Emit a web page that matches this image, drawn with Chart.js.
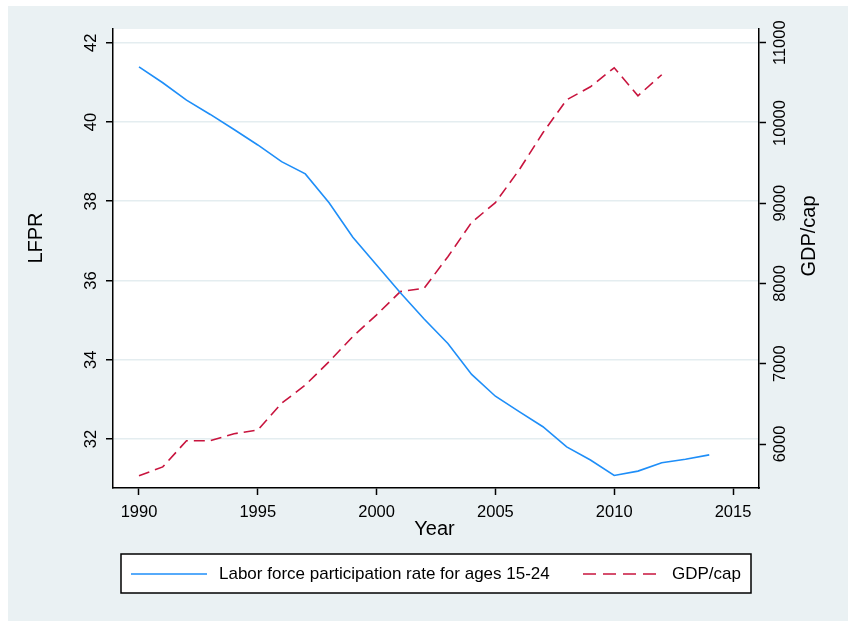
<!DOCTYPE html>
<html>
<head>
<meta charset="utf-8">
<script src="https://cdn.jsdelivr.net/npm/chart.js@4"></script>
<style>
  html, body { margin: 0; padding: 0; background: #ffffff; }
  #wrap { width: 848px; height: 621px; position: relative; }
</style>
</head>
<body>
<div id="wrap"><canvas id="c" width="848" height="621"></canvas></div>
<script>
// ---- data ----
const years = [1990,1991,1992,1993,1994,1995,1996,1997,1998,1999,2000,2001,2002,2003,2004,2005,2006,2007,2008,2009,2010,2011,2012,2013,2014];
const lfpr = [41.39,40.99,40.55,40.19,39.81,39.42,39.00,38.69,37.96,37.09,36.39,35.69,35.03,34.41,33.63,33.08,32.69,32.31,31.80,31.47,31.08,31.19,31.40,31.49,31.60];
const gdpYears = [1990,1991,1992,1993,1994,1995,1996,1997,1998,1999,2000,2001,2002,2003,2004,2005,2006,2007,2008,2009,2010,2011,2012];
const gdpcap = [5605,5715,6041,6041,6128,6174,6507,6735,7026,7340,7610,7899,7941,8334,8762,9008,9416,9878,10289,10451,10688,10339,10601];
const xTicks = [1990,1995,2000,2005,2010,2015];
const lfprTicks = [32,34,36,38,40,42];
const gdpTicks = [6000,7000,8000,9000,10000,11000];
const legendLabels = ['Labor force participation rate for ages 15-24', 'GDP/cap'];
const axisTitles = { x: 'Year', left: 'LFPR', right: 'GDP/cap' };

const BLUE = '#1E8EF8';
const RED = '#C8143E';
const BG = '#EAF1F3';
const GRID = '#E4EDF0';
const FONT = '"Liberation Sans", Arial, sans-serif';

const bgPlugin = {
  id: 'bg',
  beforeDraw(chart) {
    const ctx = chart.ctx, a = chart.chartArea;
    ctx.save();
    ctx.fillStyle = '#ffffff';
    ctx.fillRect(0, 0, chart.width, chart.height);
    ctx.fillStyle = BG;
    ctx.fillRect(8, 6, chart.width - 8, chart.height - 6);
    ctx.fillStyle = '#ffffff';
    ctx.fillRect(a.left, a.top, a.right - a.left, a.bottom - a.top);
    ctx.restore();
  },
  afterDraw(chart) {
    const ctx = chart.ctx;
    const sx = chart.scales.x, sl = chart.scales.yL, sr = chart.scales.yR;
    ctx.save();
    ctx.fillStyle = '#000';
    ctx.font = '16.5px ' + FONT;
    ctx.textAlign = 'center';
    ctx.textBaseline = 'middle';
    xTicks.forEach(v => ctx.fillText(String(v), sx.getPixelForValue(v), 512));
    lfprTicks.forEach(v => {
      ctx.save();
      ctx.translate(91, sl.getPixelForValue(v));
      ctx.rotate(-Math.PI / 2);
      ctx.fillText(String(v), 0, 0);
      ctx.restore();
    });
    gdpTicks.forEach(v => {
      ctx.save();
      ctx.translate(780, sr.getPixelForValue(v));
      ctx.rotate(-Math.PI / 2);
      ctx.fillText(String(v), 0, 0);
      ctx.restore();
    });
    // axis titles
    ctx.font = '20px ' + FONT;
    ctx.fillText(axisTitles.x, 434.5, 529);
    ctx.save();
    ctx.translate(36, 238);
    ctx.rotate(-Math.PI / 2);
    ctx.fillText(axisTitles.left, 0, 0);
    ctx.restore();
    ctx.save();
    ctx.translate(809, 236);
    ctx.rotate(-Math.PI / 2);
    ctx.fillText(axisTitles.right, 0, 0);
    ctx.restore();
    // legend
    ctx.fillStyle = '#fff';
    ctx.fillRect(121, 554, 630, 39);
    ctx.strokeStyle = '#000';
    ctx.lineWidth = 1.5;
    ctx.strokeRect(121, 554, 630, 39);
    ctx.lineWidth = 1.6;
    ctx.strokeStyle = BLUE;
    ctx.beginPath(); ctx.moveTo(131, 574); ctx.lineTo(207, 574); ctx.stroke();
    ctx.strokeStyle = RED;
    ctx.setLineDash([13, 7]);
    ctx.beginPath(); ctx.moveTo(583, 574); ctx.lineTo(661, 574); ctx.stroke();
    ctx.setLineDash([]);
    ctx.fillStyle = '#000';
    ctx.font = '17px ' + FONT;
    ctx.textAlign = 'left';
    ctx.fillText(legendLabels[0], 219, 574);
    ctx.fillText(legendLabels[1], 672, 574);
    ctx.restore();
  }
};

const setTicks = (arr) => (scale) => { scale.ticks = arr.map(v => ({ value: v })); };

new Chart(document.getElementById('c'), {
  type: 'line',
  data: {
    datasets: [
      {
        label: legendLabels[0],
        data: years.map((y, i) => ({ x: y, y: lfpr[i] })),
        yAxisID: 'yL',
        borderColor: BLUE,
        borderWidth: 1.6,
        pointRadius: 0,
        tension: 0,
        fill: false
      },
      {
        label: legendLabels[1],
        data: gdpYears.map((y, i) => ({ x: y, y: gdpcap[i] })),
        yAxisID: 'yR',
        borderColor: RED,
        borderWidth: 1.6,
        borderDash: [11, 6],
        pointRadius: 0,
        tension: 0,
        fill: false
      }
    ]
  },
  options: {
    responsive: false,
    animation: false,
    layout: { padding: { left: 0, right: 0, top: 29, bottom: 0 } },
    plugins: { legend: { display: false }, tooltip: { enabled: false } },
    scales: {
      x: {
        type: 'linear',
        min: 1988.906, max: 2016.094,
        afterBuildTicks: setTicks(xTicks),
        afterFit: (s) => { s.height = 133; },
        ticks: { display: false },
        grid: { drawOnChartArea: false, drawTicks: true, tickLength: 7, tickColor: '#000', tickWidth: 1.5 },
        border: { display: true, color: '#000', width: 1.5 }
      },
      yL: {
        type: 'linear', position: 'left',
        min: 30.764, max: 42.346,
        afterBuildTicks: setTicks(lfprTicks),
        afterFit: (s) => { s.width = 113; },
        ticks: { display: false },
        grid: { drawOnChartArea: true, color: GRID, lineWidth: 1.5, drawTicks: true, tickLength: 7, tickColor: '#000', tickWidth: 1.5 },
        border: { display: true, color: '#000', width: 1.5 }
      },
      yR: {
        type: 'linear', position: 'right',
        min: 5452, max: 11171,
        afterBuildTicks: setTicks(gdpTicks),
        afterFit: (s) => { s.width = 89; },
        ticks: { display: false },
        grid: { drawOnChartArea: false, drawTicks: true, tickLength: 7, tickColor: '#000', tickWidth: 1.5 },
        border: { display: true, color: '#000', width: 1.5 }
      }
    }
  },
  plugins: [bgPlugin]
});
</script>
</body>
</html>
